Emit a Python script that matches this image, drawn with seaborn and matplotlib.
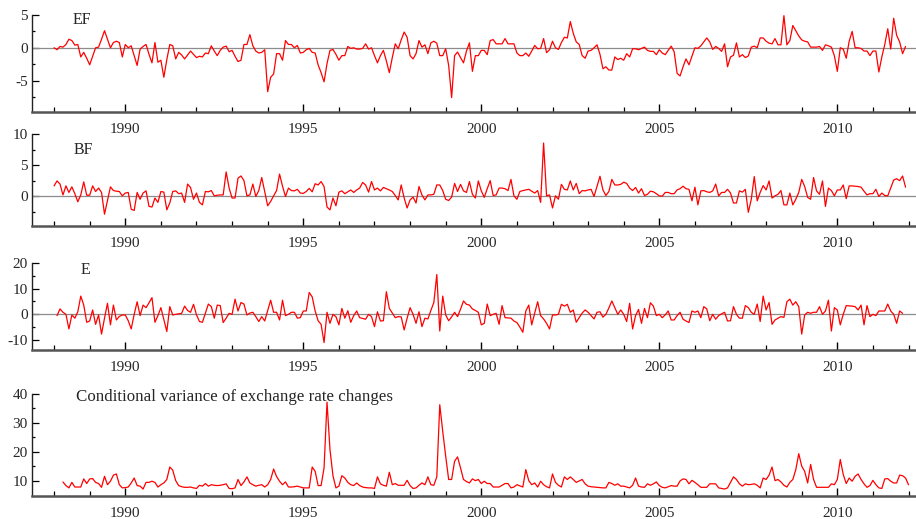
import matplotlib

matplotlib.use("Agg")

import matplotlib.pyplot as plt
import numpy as np
import pandas as pd
import seaborn as sns
from matplotlib.ticker import FixedLocator

# monthly series (EF and BF start Jan 1988)
ef = [
    0, -0.3, 0.2, 0.1, 0.5, 1.3, 1.1, 0.4, 0.5, -1.4,
    -0.7, -1.6, -2.6, -1.3, 0.0, 0.1, 1.3, 2.6, 1.3, 0.0,
    0.8, 1.0, 0.8, -1.4, 0.5, 0.0, 0.3, -1.2, -2.7, -0.2,
    0.2, 0.5, -1.0, -2.3, 0.8, -2.2, -1.9, -4.5, -1.8, 0.5,
    0.3, -1.7, -0.7, -1.1, -1.7, -1.1, -0.5, -1.0, -1.5, -1.3,
    -1.4, -0.8, -0.9, 0.3, -0.5, -1.2, -0.4, 0.1, 0.25, -0.6,
    -0.4, -1.3, -2.1, -1.9, 0.5, 0.5, 2.0, 0.3, -0.5, -0.8,
    -0.7, -0.3, -6.7, -4.5, -4.0, -0.9, -0.9, -1.9, 1.1, 0.5,
    0.5, 0.0, 0.35, -0.8, -0.7, -0.3, -0.1, -0.7, -0.8, -2.6,
    -3.8, -5.2, -2.4, -0.4, -0.25, -1.0, -1.9, -1.2, -1.2, 0.2,
    -0.1, 0.0, -0.2, -0.2, -0.1, 0.6, -0.2, 0.0, -1.2, -2.3,
    -1.2, -0.4, -2.0, -3.8, -1.5, 0.6, -0.15, 1.2, 2.4, 1.6,
    -1.2, -1.7, -0.9, 1.1, 0.1, 0.45, -0.9, 0.75, 1.0, 0.7,
    -1.2, -1.2, -0.15, -2.7, -7.6, -1.2, -0.65, -1.5, -2.3, -0.5,
    0.75, -3.6, -1.2, -1.2, -0.4, -0.4, -1.05, 1.1, 1.25, 0.6,
    0.6, 0.6, 1.4, 0.6, 0.6, 0.6, -0.8, -1.2, -1.2, -0.8,
    -1.3, -0.5, 0.35, -0.15, -0.1, 1.4, -0.75, -0.3, 1.0, 0.0,
    -0.25, 0.8, 1.6, 1.5, 4.0, 2.2, 0.9, 0.5, -1.2, -1.6,
    -0.5, -0.4, 0.0, 0.45, -1.0, -3.2, -2.9, -3.4, -3.4, -1.4,
    -1.8, -1.6, -1.9, -0.9, -1.4, -0.15, -0.15, -0.3, -0.1, 0.1,
    -0.4, -0.55, -0.55, -1.05, -0.3, -0.8, -1.05, -0.4, 0.25, -0.6,
    -3.9, -4.3, -2.9, -1.7, -2.6, -1.3, 0.0, -0.1, 0.3, 0.9,
    1.5, 0.9, -0.25, 0.2, -0.1, -0.55, 0.6, -2.9, -1.4, -1.15,
    0.75, -1.4, -1.05, -1.5, -1.25, 0.1, 0.25, 0.0, 1.5, 1.5,
    1.0, 0.7, 0.6, 1.4, 0.45, 0.45, 4.9, 0.45, 1.1, 3.4,
    2.6, 1.8, 1.2, 1.0, 0.9, 0.1, 0.1, 0.1, 0.2, -0.4,
    0.45, 0.3, 0.1, -1.2, -3.6, 0.0, -0.2, -1.6, 1.0, 2.5,
    0.0, 0.0, -0.1, -0.5, -0.5, -1.2, -0.5, -0.5, -3.7, -1.4,
    0.5, 2.9, -0.2, 4.5, 1.9, 0.9, -0.9, 0.2,
]

bf = [
    1.65, 2.45, 1.95, 0.2, 1.65, 0.6, 1.5, 0.4, -0.9, 0.2,
    2.3, 0.15, 0.15, 1.65, 0.75, 1.3, 0.6, -2.9, -0.7, 1.5,
    0.9, 0.8, 0.75, 0.05, 0.5, 0.6, -2.1, -2.3, 0.6, -0.5,
    0.5, 0.85, -1.65, -1.75, -0.3, -1.0, 0.75, 0.65, -2.2, -1.1,
    0.75, 0.85, 0.4, 0.5, -1.0, 1.95, 1.4, -0.5, 0.5, -1.0,
    -1.4, 0.75, 0.7, 0.9, 0.05, 0.15, 0.2, 0.2, 3.9, 1.3,
    -0.3, -0.3, 2.9, 3.25, 2.5, 0.05, 0.2, 1.95, -0.05, 0.9,
    3.0, 0.75, -1.55, -0.85, 0.05, 0.9, 3.55, 1.6, -0.05, 1.3,
    0.9, 0.85, 1.1, 0.5, 0.45, 0.75, 1.25, 0.7, 2.0, 1.8,
    2.35, 1.55, -1.75, -2.2, -0.3, -1.55, 0.65, 0.85, 0.4, 0.7,
    1.0, 0.6, 1.0, 1.3, 2.2, 1.8, 0.65, 2.35, 1.0, 1.3,
    0.85, 1.4, 1.2, 1.0, 0.75, 0.1, -0.6, 1.8, -0.3, -1.9,
    -0.6, -0.15, -1.1, 1.55, 0.2, -0.6, 0.2, 0.2, 0.3, 1.8,
    1.8, 0.9, -0.5, -0.7, -0.15, 2.05, 0.75, 1.9, 0.85, 0.6,
    2.35, 0.3, -0.3, 2.45, 0.85, -0.2, 1.2, 2.5, 0.1, 0.2,
    1.3, 1.3, 1.2, 0.9, 2.7, 0.05, -0.5, 0.75, 0.9, 1.0,
    1.1, 0.8, 0.5, 0.9, -1.0, 8.55, 0.05, 0.2, -1.9, 0.05,
    -0.5, 1.9, 1.1, 1.0, 2.45, 1.0, 2.05, 0.4, 0.9, 0.85,
    1.0, 1.1, -0.05, 1.6, 3.2, 1.0, 0.1, 0.75, 2.7, 1.8,
    1.8, 1.9, 2.25, 2.05, 1.3, 0.9, 1.4, 0.5, 1.2, 0.1,
    0.3, 0.8, 0.7, 0.4, 0.05, 0.0, 0.6, 0.6, 0.4, 0.4,
    1.0, 1.2, 1.6, 1.2, 1.1, -0.75, 1.45, -1.4, 0.85, 0.9,
    0.7, 0.6, 0.85, 1.95, 0.05, 0.6, 0.6, 1.1, 0.5, -1.1,
    -1.1, 0.85, 0.65, 1.1, -2.6, -0.5, 3.15, -0.75, 0.6, 1.7,
    1.0, 2.45, -0.3, 0.05, 0.3, 0.9, -1.4, -1.4, 0.5, -1.4,
    -0.5, 0.6, 2.7, 1.55, -0.2, -0.5, 3.0, 0.85, 0.3, 2.45,
    -1.65, 1.3, 0.9, 0.05, 1.0, 1.0, 1.8, -0.4, 1.65, 1.65,
    1.6, 1.55, 1.45, 0.8, 0.2, 0.4, 0.4, 1.1, -0.05, 0.5,
    0.1, 0.05, 1.3, 2.6, 2.8, 2.5, 3.25, 1.45,
]

# E starts Feb 1988
e = [
    -0.5, 2.1, 0.8, 0.0, -5.7, -0.25, -1.5, 1.0, 7.1,
    3.6, -3.1, -2.6, 1.7, -3.9, -0.25, -7.7, -1.5, 4.3, -4.1,
    3.6, -2.2, -0.8, -0.25, -0.25, -2.5, -5.7, 0.0, 4.9, -0.5,
    3.6, 2.6, 4.5, 6.5, -3.1, -0.5, 2.6, -2.0, -6.7, 3.0,
    -0.25, 0.0, 0.2, 0.4, 3.2, 1.5, 0.8, 3.9, -0.2, -2.8,
    -3.1, 0.5, 4.0, 3.0, -1.5, 3.6, 3.4, -3.2, -1.5, 0.4,
    0.0, 5.9, 1.3, 4.6, 4.0, -0.25, 0.5, 0.8, -0.9, -2.8,
    -0.9, -2.6, 1.5, 5.5, 0.8, 0.8, -2.2, 5.5, -0.5, 0.0,
    0.8, 0.8, -1.5, -1.3, 1.3, 1.3, 8.5, 6.8, 1.3, -2.5,
    -3.9, -11.0, 0.8, -3.5, 0.0, -0.9, -4.1, 2.3, -1.5, 1.4,
    -3.1, -0.5, 1.3, -1.3, -1.6, -1.9, 0.0, -0.9, -4.8, 1.0,
    -2.6, -2.5, 8.8, 2.3, 0.5, -1.3, -0.9, -1.0, -6.1, -1.5,
    2.6, 0.0, -3.5, 1.0, -4.8, -1.5, -1.8, 1.5, 4.6, 15.5,
    -6.5, 7.1, -0.25, -2.5, -1.0, 0.8, -0.9, 2.0, 5.2, 3.9,
    3.6, 2.1, 1.5, 0.8, -4.1, -3.5, 4.0, -0.5, 0.0, 0.4,
    -3.9, 3.4, -1.3, -1.4, -1.5, -2.6, -3.2, -5.0, -7.0, 1.3,
    3.6, -4.1, 0.5, 4.9, -0.5, -1.8, -3.5, -5.7, -0.25, -0.25,
    0.0, 3.9, 3.2, 3.9, 0.8, 1.7, -3.1, -1.3, 0.5, 1.7,
    0.8, -0.5, -1.8, 0.8, 1.0, -1.1, 0.0, 2.5, 5.2, 2.6,
    0.0, 1.7, 0.0, -2.8, 4.3, -5.7, -0.5, 1.9, -3.5, 2.3,
    -1.3, 4.5, 3.2, -0.5, 0.0, -1.3, -0.2, 1.3, -2.2, -2.2,
    -0.5, 0.8, -1.9, -2.6, -3.2, 1.3, 0.8, 1.3, -1.3, 3.0,
    2.1, -2.5, 0.0, -1.9, -0.5, 0.2, 0.8, -2.6, -2.5, 3.0,
    0.0, -1.5, -1.5, 3.4, 2.6, 0.8, 0.0, 4.0, -2.8, 7.1,
    1.7, 4.6, -3.9, -2.2, -1.5, -0.9, -1.2, 4.9, 5.9, 3.6,
    4.9, 3.0, -7.7, -0.25, 0.8, 0.4, 0.8, 0.8, 3.0, 0.0,
    1.3, 5.5, -6.5, 2.6, 1.7, -4.1, 0.0, 3.4, 3.3, 3.2,
    3.0, 1.7, 3.6, -4.1, 3.4, -0.9, 0.0, -0.5, 1.3, 1.3,
    1.3, 4.0, 1.3, 0.0, -3.5, 1.3, 0.4,
]

# conditional variance starts Apr 1988
cond_var = [
    9.65, 8.4, 7.6, 9.5, 7.9, 7.9, 7.9,
    10.7, 9.1, 10.7, 10.8, 9.5, 9.1, 7.8, 11.6, 8.7, 9.9,
    12.0, 12.4, 8.7, 7.6, 7.7, 7.9, 9.3, 11.0, 8.4, 8.2,
    7.2, 9.5, 9.5, 9.9, 9.5, 7.9, 8.7, 9.3, 10.5, 14.8,
    13.7, 10.1, 8.4, 8.0, 7.8, 7.8, 7.9, 7.6, 7.4, 8.5,
    8.2, 9.1, 8.2, 8.7, 8.5, 8.4, 8.5, 8.7, 9.0, 7.4,
    7.3, 7.6, 10.5, 8.4, 9.65, 11.4, 9.3, 8.7, 8.2, 8.5,
    8.7, 7.9, 8.7, 10.5, 14.1, 11.5, 9.9, 8.7, 9.65, 7.9,
    7.9, 8.0, 8.2, 7.9, 7.6, 7.6, 7.6, 14.8, 13.3, 8.4,
    8.4, 14.5, 37.2, 20.8, 11.8, 7.6, 8.2, 11.8, 11.0, 9.5,
    8.7, 8.4, 9.3, 8.4, 7.9, 7.7, 7.6, 7.6, 7.4, 11.4,
    9.0, 8.5, 8.2, 13.0, 8.7, 9.1, 8.5, 8.5, 8.5, 10.2,
    8.4, 7.4, 7.6, 8.5, 9.3, 8.7, 11.4, 8.7, 8.5, 11.4,
    36.3, 27.1, 18.5, 10.5, 10.5, 16.8, 18.3, 14.5, 10.5, 9.8,
    9.3, 10.7, 10.1, 10.5, 9.1, 9.9, 9.1, 9.1, 7.9, 7.9,
    7.9, 8.5, 9.1, 9.1, 7.6, 7.9, 8.7, 8.3, 7.9, 13.9,
    10.1, 8.7, 9.3, 7.9, 9.9, 8.7, 8.0, 7.6, 12.4, 9.5,
    8.5, 7.9, 11.4, 10.5, 11.4, 10.5, 9.5, 10.0, 10.5, 9.0,
    8.2, 8.0, 7.9, 7.8, 7.7, 7.6, 7.6, 9.5, 9.1, 8.5,
    9.0, 8.2, 8.2, 7.9, 7.6, 8.5, 11.0, 8.2, 7.9, 7.8,
    9.0, 8.5, 9.0, 9.65, 8.4, 7.8, 7.6, 8.0, 8.4, 8.2,
    8.2, 10.0, 10.7, 10.5, 9.0, 10.2, 9.5, 8.7, 7.8, 7.8,
    7.8, 9.0, 9.0, 9.0, 7.6, 7.4, 7.2, 7.6, 9.5, 11.4,
    10.5, 9.0, 8.2, 9.0, 8.7, 8.8, 9.0, 8.5, 7.6, 11.0,
    10.5, 12.0, 14.8, 10.1, 10.5, 9.65, 8.5, 7.9, 9.5, 10.5,
    13.9, 19.4, 15.1, 13.3, 9.3, 15.7, 10.5, 7.8, 7.8, 7.8,
    7.8, 7.8, 9.0, 8.7, 10.5, 17.4, 12.2, 9.1, 11.0, 9.9,
    11.6, 12.4, 10.5, 9.0, 7.8, 8.4, 10.2, 8.7, 7.6, 7.4,
    10.7, 10.8, 9.9, 9.3, 9.3, 12.0, 11.8, 11.0, 8.7,
]

PANELS = [
    ("EF", ef, "1988-01", (-9.8, 5), [-5, 0, 5], [-7.5, -2.5, 2.5], True),
    ("BF", bf, "1988-01", (-4.8, 10), [0, 5, 10], [-2.5, 2.5, 7.5], True),
    ("E", e, "1988-02", (-13.9, 20), [-10, 0, 10, 20], [-5, 5, 15], True),
    ("Conditional variance of exchange rate changes", cond_var, "1988-04",
     (4.8, 40), [10, 20, 30, 40], [15, 25, 35], False),
]
# axes boxes in pixels: top, bottom, plus label position (x px, y px, size)
BOXES = [(15, 112, 73, 20, 11.5), (134, 226, 74, 150, 11.5),
         (263, 350, 81, 270, 11.5), (394, 496, 76, 397, 12.2)]
MAJOR_YEARS = [1990, 1995, 2000, 2005, 2010]
MINOR_YEARS = list(range(1988, 2013))


def _to_frame(values, start):
    dates = pd.date_range(start, periods=len(values), freq="MS")
    return pd.DataFrame({"t": dates.year + (dates.month - 1) / 12.0, "v": values})


sns.set_style("ticks")
plt.rcParams["font.family"] = ["Liberation Serif", "DejaVu Serif"]
plt.rcParams["axes.unicode_minus"] = False

W, H = 916, 519
fig = plt.figure(figsize=(W / 100, H / 100), dpi=100)
left = 32

for (label, values, start, ylim, major, minor, zero), (top, bottom, lx, ly, fs) in zip(PANELS, BOXES):
    ax = fig.add_axes([left / W, 1 - bottom / H, 1 - left / W, (bottom - top) / H])
    df = _to_frame(values, start)
    if zero:
        ax.axhline(0, color="#8c8c8c", lw=0.9, zorder=1)
    sns.lineplot(data=df, x="t", y="v", ax=ax, color="red", lw=0.9, zorder=3)
    ax.set_xlim(1987.38, 2012.21)
    ax.set_ylim(*ylim)
    ax.set_xlabel("")
    ax.set_ylabel("")

    ax.xaxis.set_major_locator(FixedLocator(MAJOR_YEARS))
    ax.xaxis.set_minor_locator(FixedLocator(MINOR_YEARS))
    ax.set_xticklabels([str(y) for y in MAJOR_YEARS])
    ax.yaxis.set_major_locator(FixedLocator(major))
    ax.yaxis.set_minor_locator(FixedLocator(minor))
    ax.set_yticklabels([str(v) for v in major])

    ax.tick_params(axis="x", which="major", direction="in", length=6, width=1.0,
                   pad=8, labelsize=11, color="black")
    ax.tick_params(axis="x", which="minor", direction="in", length=3.5, width=0.9,
                   color="black")
    ax.tick_params(axis="y", which="major", direction="in", length=5, width=0.9,
                   pad=3, labelsize=11, color="black")
    ax.tick_params(axis="y", which="minor", direction="in", length=2.5, width=0.9,
                   color="black")

    sns.despine(ax=ax, top=True, right=True)
    ax.spines["bottom"].set_color("#555555")
    ax.spines["bottom"].set_linewidth(1.8)
    ax.spines["left"].set_color("#222222")
    ax.spines["left"].set_linewidth(1.0)
    ax.patch.set_alpha(0)

    ax.text((lx - left) / (W - left), (bottom - ly) / (bottom - top), label,
            transform=ax.transAxes, fontsize=fs, va="center", ha="left")

fig.savefig("out.png", dpi=100)
